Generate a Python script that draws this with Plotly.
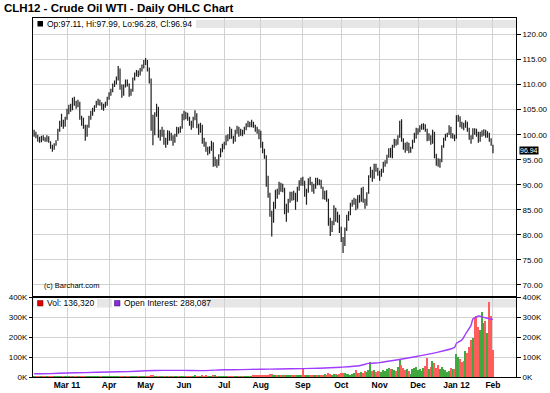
import pandas as pd
import plotly.graph_objects as go

# ---------------- data ----------------
holidays = ["2011-02-21", "2011-04-22", "2011-05-30", "2011-07-04", "2011-09-05",
            "2011-11-24", "2011-12-26", "2012-01-02", "2012-01-16"]

opens = [
    # Feb 2011
    100.0, 100.3, 99.5, 99.2, 98.8, 99.5, 99.1, 98.9, 99.5, 98.5, 97.7, 97.3, 98.0, 99.2, 100.8, 102.0, 102.8, 101.9,
    # Mar
    103.4, 104.5, 105.5, 105.2, 106.9, 106.3, 105.9, 106.4, 103.3, 102.9, 101.5, 100.0, 101.8, 103.3, 104.0, 104.9, 105.7, 106.3, 106.7, 106.1, 105.3, 105.9, 106.0,
    # Apr
    107.4, 108.1, 108.7, 109.8, 110.4, 111.1, 112.8, 109.6, 108.0, 109.7, 110.5, 110.0, 108.4, 108.8, 111.1, 112.0, 112.5, 112.1, 113.0, 113.6,
    # May
    114.4, 114.5, 113.0, 110.6, 102.6, 100.2, 104.1, 105.2, 99.9, 100.4, 100.5, 98.6, 98.4, 100.5, 99.3, 99.6, 98.9, 99.9, 101.1, 100.7, 101.4,
    # Jun
    103.7, 104.0, 103.9, 103.2, 102.3, 101.9, 103.3, 104.0, 101.6, 100.7, 101.8, 98.8, 98.3, 97.0, 96.9, 97.1, 98.2, 94.2, 94.8, 94.1, 95.8, 96.9,
    # Jul
    97.7, 98.2, 99.5, 99.3, 100.8, 99.4, 98.9, 100.7, 101.1, 100.1, 100.7, 100.4, 101.1, 101.9, 102.3, 101.8, 102.3, 101.7, 100.9, 100.6,
    # Aug
    100.0, 98.1, 96.6, 95.6, 90.1, 88.0, 84.0, 82.8, 85.9, 88.6, 88.3, 90.2, 89.1, 89.2, 84.5, 85.2, 86.8, 88.0, 87.5, 87.8, 86.8, 89.3, 90.4,
    # Sep
    90.7, 90.4, 86.8, 88.8, 90.9, 90.2, 88.8, 89.7, 90.9, 90.3, 90.7, 89.4, 87.7, 88.4, 86.8, 82.2, 81.5, 82.1, 85.0, 83.1, 83.6,
    # Oct
    80.9, 79.2, 78.4, 81.2, 83.7, 84.2, 86.1, 86.5, 86.9, 85.6, 87.5, 86.9, 89.1, 86.7, 86.2, 88.4, 91.7, 92.8, 91.6, 93.8, 93.1,
    # Nov
    92.2, 92.1, 92.7, 94.3, 94.6, 95.7, 97.0, 95.7, 97.7, 98.9, 98.3, 99.6, 102.2, 98.8, 97.5, 97.3, 98.1, 96.7, 97.4, 98.8, 100.1,
    # Dec
    100.7, 100.9, 101.6, 101.5, 101.7, 100.9, 99.1, 99.6, 98.5, 100.4, 95.5, 94.8, 94.3, 94.8, 97.7, 99.1, 99.9, 100.2, 101.3, 99.5, 99.7,
    # Jan 2012 + Feb 1
    99.3, 103.1, 103.5, 102.1, 101.8, 101.7, 102.3, 101.1, 99.5, 99.3, 100.9, 100.7, 100.3, 98.9, 100.1, 100.3, 100.7, 99.9, 100.1, 98.9, 97.11,
]

highs = [
    101.0, 100.6, 100.0, 99.6, 99.8, 99.9, 99.5, 99.9, 99.7, 98.7, 98.0, 98.3, 98.9, 101.2, 102.8, 104.2, 103.0, 103.6,
    105.2, 106.0, 106.2, 107.4, 107.6, 106.8, 107.0, 106.6, 103.8, 103.4, 102.0, 102.0, 103.8, 104.8, 105.4, 105.9, 106.8, 107.2, 107.0, 106.5, 106.2, 106.6, 107.6,
    108.5, 109.2, 110.2, 110.8, 111.6, 113.7, 113.2, 110.0, 110.0, 111.0, 111.0, 110.2, 109.2, 111.4, 112.4, 112.9, 112.8, 113.3, 114.0, 114.9,
    115.3, 114.9, 113.4, 111.2, 104.0, 104.5, 106.2, 105.6, 101.0, 101.6, 101.0, 99.4, 100.9, 100.8, 100.4, 99.9, 100.2, 101.6, 101.5, 101.7, 104.2,
    104.8, 104.6, 104.4, 103.6, 102.8, 103.6, 104.9, 104.3, 102.2, 102.4, 102.0, 99.4, 98.6, 97.6, 97.7, 98.8, 98.5, 95.6, 95.1, 96.1, 97.3, 98.2,
    98.6, 99.9, 100.1, 101.6, 101.2, 99.8, 101.0, 101.8, 101.6, 101.2, 101.0, 101.6, 102.3, 102.8, 102.6, 103.0, 102.6, 102.0, 101.6, 101.1,
    100.8, 98.6, 97.2, 95.9, 91.8, 88.4, 84.8, 86.6, 89.0, 89.2, 90.6, 90.4, 90.2, 89.4, 86.2, 87.2, 88.6, 88.6, 88.8, 88.4, 89.6, 90.9, 91.4,
    91.6, 90.8, 89.2, 91.3, 91.6, 90.6, 90.2, 91.4, 91.4, 91.1, 91.0, 89.6, 88.8, 88.9, 87.2, 83.4, 82.8, 85.9, 85.4, 84.6, 84.0,
    81.6, 79.6, 81.5, 84.0, 84.7, 86.4, 87.0, 87.4, 87.2, 87.9, 88.0, 89.4, 89.6, 87.2, 88.5, 91.9, 93.6, 93.0, 94.2, 94.2, 93.4,
    92.8, 93.2, 94.6, 94.9, 96.0, 97.3, 97.4, 98.0, 99.2, 99.1, 99.9, 102.8, 103.1, 99.3, 98.4, 98.6, 98.4, 97.6, 99.0, 100.4, 101.4,
    101.3, 101.9, 102.2, 102.3, 102.1, 101.2, 100.3, 99.9, 101.0, 100.6, 96.2, 95.3, 95.2, 97.9, 99.4, 100.2, 100.4, 101.9, 101.6, 100.3, 100.0,
    103.9, 104.0, 103.7, 102.6, 102.4, 102.9, 102.6, 101.4, 99.9, 101.3, 101.3, 101.2, 100.6, 100.6, 100.9, 101.1, 101.0, 100.7, 100.4, 99.3, 97.99,
]

lows = [
    99.6, 99.3, 98.6, 98.4, 98.5, 98.8, 98.6, 98.6, 98.4, 97.2, 96.6, 97.0, 97.8, 98.8, 100.6, 101.6, 101.2, 101.6,
    103.0, 104.1, 104.6, 104.9, 105.8, 105.2, 105.5, 103.0, 101.8, 101.2, 98.8, 99.6, 101.4, 103.0, 103.8, 104.6, 105.4, 105.9, 105.8, 105.0, 104.8, 105.4, 105.8,
    107.0, 107.8, 108.5, 109.5, 110.0, 110.8, 109.0, 107.4, 107.8, 109.4, 109.6, 107.6, 107.8, 108.6, 110.8, 111.6, 111.5, 111.8, 112.6, 113.2,
    113.9, 112.6, 110.2, 100.8, 97.9, 99.9, 103.6, 99.4, 98.8, 99.6, 98.0, 97.4, 98.0, 98.8, 98.8, 97.8, 98.4, 99.6, 100.2, 100.4, 101.2,
    102.9, 103.1, 102.8, 101.8, 101.0, 101.4, 102.9, 101.3, 100.0, 100.4, 98.2, 97.6, 96.6, 95.9, 96.2, 96.8, 93.6, 93.7, 93.4, 93.8, 95.5, 96.5,
    97.1, 97.9, 98.7, 99.1, 99.2, 98.2, 98.6, 100.2, 99.6, 99.8, 99.7, 100.1, 100.9, 101.5, 101.5, 101.5, 101.4, 100.6, 100.2, 99.1,
    97.4, 96.3, 95.2, 89.6, 87.4, 83.6, 79.7, 82.4, 85.2, 87.2, 88.0, 88.6, 88.5, 84.1, 82.6, 84.4, 86.4, 86.8, 86.9, 85.0, 86.6, 88.8, 89.8,
    89.8, 87.6, 86.0, 88.4, 89.9, 88.6, 88.2, 89.2, 89.9, 89.9, 89.2, 87.1, 87.0, 86.6, 81.8, 79.8, 80.6, 81.9, 82.6, 82.4, 80.4,
    78.6, 76.4, 77.8, 80.8, 82.8, 83.9, 85.6, 86.0, 84.9, 85.2, 86.4, 86.6, 86.4, 85.2, 85.8, 88.2, 91.4, 90.6, 91.2, 92.6, 91.8,
    90.8, 91.6, 92.4, 93.6, 94.2, 95.4, 95.4, 95.3, 97.4, 97.8, 98.0, 99.4, 98.6, 97.0, 96.4, 96.8, 96.3, 96.4, 97.2, 98.4, 99.2,
    100.0, 100.5, 101.0, 101.0, 100.6, 98.7, 98.8, 98.0, 98.2, 95.3, 93.8, 93.6, 93.4, 94.5, 97.4, 98.8, 99.5, 100.0, 99.3, 99.2, 98.7,
    99.2, 102.6, 101.5, 101.2, 100.9, 101.4, 100.6, 99.0, 98.2, 99.1, 100.0, 99.6, 98.4, 98.6, 99.6, 99.8, 99.4, 99.4, 98.6, 97.8, 96.28,
]

closes = [
    100.4, 99.6, 99.0, 98.8, 99.4, 99.2, 98.9, 99.6, 98.6, 97.6, 97.2, 97.9, 98.4, 100.6, 101.9, 102.6, 101.8, 103.3,
    104.6, 105.4, 105.0, 106.8, 106.4, 105.8, 106.6, 103.4, 102.6, 101.8, 99.9, 101.6, 103.2, 103.8, 104.8, 105.6, 106.4, 106.6, 106.2, 105.4, 105.8, 105.9, 107.3,
    108.0, 108.6, 109.7, 110.3, 111.0, 113.0, 109.5, 108.0, 109.6, 110.6, 110.2, 108.3, 108.6, 111.0, 112.0, 112.4, 112.0, 112.9, 113.5, 114.3,
    114.6, 113.0, 110.8, 102.4, 99.8, 104.0, 105.0, 99.8, 100.2, 100.6, 98.6, 98.2, 100.4, 99.2, 99.8, 98.8, 99.8, 101.0, 100.6, 101.2, 103.6,
    104.0, 103.8, 103.4, 102.2, 101.8, 103.2, 104.2, 101.8, 100.6, 102.0, 98.6, 98.4, 97.0, 96.8, 97.0, 98.4, 94.4, 94.6, 94.0, 95.6, 96.8, 97.6,
    98.0, 99.4, 99.2, 101.0, 99.6, 98.8, 100.6, 101.2, 100.0, 100.8, 100.2, 101.0, 101.8, 102.2, 102.0, 102.4, 101.8, 101.0, 100.8, 99.6,
    98.0, 96.8, 95.8, 90.0, 89.6, 84.4, 82.6, 85.8, 88.4, 88.0, 90.0, 89.0, 89.6, 84.6, 84.8, 86.6, 87.8, 87.6, 87.9, 86.4, 89.2, 90.4, 90.6,
    90.2, 88.0, 88.6, 90.8, 90.4, 89.0, 89.6, 90.8, 90.4, 90.6, 89.6, 87.6, 88.2, 87.0, 82.4, 81.4, 81.8, 85.2, 83.0, 83.8, 81.0,
    79.0, 78.2, 81.0, 83.6, 84.0, 86.0, 86.4, 86.8, 85.4, 87.6, 87.0, 89.0, 86.8, 86.0, 88.2, 91.6, 93.0, 91.4, 93.6, 93.2, 92.4,
    92.0, 92.6, 94.2, 94.4, 95.6, 96.9, 95.8, 97.6, 98.8, 98.2, 99.5, 102.4, 99.0, 97.6, 97.2, 98.2, 96.6, 97.2, 98.6, 100.0, 100.6,
    100.8, 101.4, 101.4, 101.8, 101.0, 99.0, 99.8, 98.4, 100.6, 95.6, 94.6, 94.2, 94.6, 97.6, 99.0, 99.8, 100.0, 101.4, 99.6, 99.8, 99.0,
    103.2, 103.4, 102.0, 101.8, 101.6, 102.4, 101.0, 99.4, 99.0, 100.8, 100.6, 100.2, 98.8, 100.2, 100.4, 100.8, 99.8, 100.2, 99.0, 98.4, 96.94,
]

volumes = [
    1200, 1500, 1100, 900, 1300, 1400, 1200, 1000, 1600, 1800, 1500, 1300, 1200, 2500, 2800, 2400, 1900, 2200,
    2000, 2400, 1800, 2100, 2300, 1900, 2200, 2800, 2600, 3000, 3600, 2800, 2500, 2300, 2100, 2000, 2400, 2200, 1900, 2000, 2300, 2100, 2500,
    2600, 2300, 2500, 2700, 2400, 3000, 3200, 2800, 2600, 2500, 2300, 2700, 2400, 2900, 2600, 2200, 2400, 2500, 2700, 3000,
    3200, 3400, 3800, 6500, 5200, 4000, 3600, 4200, 3800, 3300, 3500, 3700, 3200, 3100, 2900, 3300, 3000, 3400, 2800, 2600, 3500,
    3400, 3000, 2800, 3600, 3200, 3900, 9000, 4500, 4200, 3800, 5500, 4800, 5200, 4300, 4000, 4600, 6500, 5200, 4800, 4500, 4100, 4700,
    3800, 4200, 3900, 4600, 4400, 4800, 4200, 4000, 4500, 4300, 4100, 4700, 5000, 4600, 4200, 4800, 5200, 5600, 5100, 6200,
    6800, 7500, 8200, 12000, 11000, 14000, 15000, 12000, 10000, 8500, 7800, 8200, 7600, 11000, 9500, 8800, 9000, 7800, 8200, 7500, 8800, 9500, 10000,
    40000, 12000, 8000, 10000, 9000, 12000, 8000, 10000, 9000, 11000, 8000, 10000, 14000, 12000, 18000, 15000, 12000, 16000, 14000, 12000, 15000,
    18000, 22000, 20000, 15000, 14000, 12000, 16000, 20000, 33000, 18000, 20000, 25000, 22000, 28000, 25000, 33000, 73000, 30000, 35000, 25000, 28000,
    30000, 25000, 35000, 28000, 40000, 45000, 38000, 42000, 35000, 30000, 48000, 87000, 60000, 45000, 35000, 40000, 30000, 15000, 38000, 45000, 50000,
    35000, 40000, 30000, 45000, 55000, 95000, 40000, 50000, 82000, 70000, 45000, 60000, 38000, 52000, 40000, 35000, 25000, 30000, 45000, 38000, 42000,
    115000, 100000, 90000, 75000, 80000, 128000, 120000, 150000, 185000, 195000, 300000, 303000, 250000, 237000, 323000, 270000, 278000, 220000, 373000, 303000, 136320,
]

oi_dates = ["2011-02-02", "2011-02-15", "2011-03-01", "2011-03-15", "2011-04-01", "2011-04-15",
            "2011-05-02", "2011-05-16", "2011-06-01", "2011-06-15", "2011-07-01", "2011-07-15",
            "2011-08-01", "2011-08-15", "2011-09-01", "2011-09-15", "2011-10-03", "2011-10-17",
            "2011-10-24", "2011-11-01", "2011-11-15", "2011-12-01", "2011-12-15", "2011-12-30",
            "2012-01-03", "2012-01-06", "2012-01-10", "2012-01-13", "2012-01-17", "2012-01-19",
            "2012-01-20", "2012-01-23", "2012-01-24", "2012-01-26", "2012-01-30", "2012-02-01"]
oi_values = [16000, 17000, 20000, 22000, 25000, 27000,
             31000, 33000, 33000, 32000, 36000, 37000,
             39000, 40000, 42000, 44000, 49000, 56000,
             68000, 72000, 86000, 104000, 122000, 148000,
             168000, 185000, 215000, 258000, 290000, 300000,
             305000, 304000, 301000, 296000, 291000, 288087]

month_ticks = ["2011-03-01", "2011-04-01", "2011-05-02", "2011-06-01", "2011-07-01", "2011-08-01",
               "2011-09-01", "2011-10-03", "2011-11-01", "2011-12-01", "2012-01-03", "2012-02-01"]
month_labels = ["Mar 11", "Apr", "May", "Jun", "Jul", "Aug", "Sep", "Oct", "Nov", "Dec", "Jan 12", "Feb"]

price_ticks = [70, 75, 80, 85, 90, 95, 100, 105, 110, 115, 120]
vol_ticks = [0, 100000, 200000, 300000, 400000]
vol_labels = ["0K", "100K", "200K", "300K", "400K"]

title_text = "CLH12 - Crude Oil WTI - Daily OHLC Chart"
price_legend = "Op:97.11, Hi:97.99, Lo:96.28, Cl:96.94"
vol_legend = "Vol: 136,320"
oi_legend = "Open Interest: 288,087"
last_price = 96.94

# ---------------- styling ----------------
FONT = "Liberation Sans, Arial, sans-serif"
GRID = "#D2D2D2"
RED = "#FF5C5C"
GREEN = "#3FA83F"
PURPLE = "#A03CFF"
W, H = 550, 393
ML, MR, MT, MB = 33, 34, 18, 16
PW, PH = W - ML - MR, H - MT - MB
VOL_TOP = (PH + MT - 297) / PH  # divider at pixel 297


def px_x(p):
    return (p - ML) / PW


def px_y(p):
    return (PH + MT - p) / PH


dates = [d for d in pd.bdate_range("2011-02-02", "2012-02-01") if d.strftime("%Y-%m-%d") not in holidays]
vol_colors = [GREEN if i == 0 or closes[i] >= closes[i - 1] else RED for i in range(len(closes))]

x_range = ["2011-02-01 09:36", "2012-02-17 14:24"]
rbreaks = [dict(bounds=["sat", "mon"]), dict(values=holidays)]

fig = go.Figure()
fig.add_trace(go.Ohlc(
    x=dates, open=opens, high=highs, low=lows, close=closes,
    xaxis="x", yaxis="y",
    increasing=dict(line=dict(color="#1E1E1E", width=1.2)),
    decreasing=dict(line=dict(color="#1E1E1E", width=1.2)),
    tickwidth=0.3, showlegend=False,
))
fig.add_trace(go.Bar(
    x=dates, y=volumes, xaxis="x2", yaxis="y2",
    marker=dict(color=vol_colors, line=dict(width=0)),
    width=0.72 * 86400000, showlegend=False,
))
fig.add_trace(go.Scatter(
    x=oi_dates, y=oi_values, xaxis="x2", yaxis="y3", mode="lines",
    line=dict(color=PURPLE, width=1.4, shape="spline", smoothing=0.6), showlegend=False,
))

tickfont = dict(family=FONT, size=8, color="black")
common_x = dict(range=x_range, rangebreaks=rbreaks, tickvals=month_ticks, showgrid=True,
                gridcolor=GRID, gridwidth=1, showline=True, linecolor="black", linewidth=1,
                mirror=True, ticks="", zeroline=False, automargin=False)

fig.update_layout(
    width=W, height=H,
    margin=dict(l=ML, r=MR, t=MT, b=MB, pad=0, autoexpand=False),
    paper_bgcolor="white", plot_bgcolor="white",
    showlegend=False, bargap=0,
    font=dict(family=FONT, size=8, color="black"),
    xaxis=dict(domain=[0, 1], anchor="y", showticklabels=False,
               rangeslider=dict(visible=False), **common_x),
    xaxis2=dict(domain=[0, 1], anchor="y2", ticktext=month_labels,
                tickfont=dict(family=FONT, size=8.5, color="black", weight="bold"), **common_x),
    yaxis=dict(domain=[VOL_TOP, 1], anchor="x", side="right", range=[67.6, 123.3],
               tickvals=price_ticks, tickformat=".2f", ticks="outside", ticklen=4,
               tickcolor="black", showline=True, linecolor="black", mirror=True,
               showgrid=True, gridcolor=GRID, zeroline=False, tickfont=tickfont, automargin=False),
    yaxis2=dict(domain=[0, VOL_TOP], anchor="x2", side="right", range=[0, 400000],
                tickvals=vol_ticks, ticktext=vol_labels, ticks="outside", ticklen=4,
                tickcolor="black", showline=True, linecolor="black", mirror=True,
                showgrid=True, gridcolor=GRID, zeroline=False, tickfont=tickfont, automargin=False),
    yaxis3=dict(overlaying="y2", anchor="x2", side="left", range=[0, 400000],
                tickvals=vol_ticks, ticktext=vol_labels, ticks="outside", ticklen=3,
                tickcolor="black", showline=True, linecolor="black",
                showgrid=False, zeroline=False, tickfont=tickfont, automargin=False),
)

shapes = [
    # legend bands
    dict(type="rect", xref="paper", yref="paper", x0=0, x1=1, y0=px_y(28), y1=px_y(20),
         fillcolor="#E6E6E6", line=dict(width=0), layer="below"),
    dict(type="rect", xref="paper", yref="paper", x0=0, x1=1, y0=px_y(307.5), y1=px_y(299),
         fillcolor="#E6E6E6", line=dict(width=0), layer="below"),
    # white boxes behind legend texts
    dict(type="rect", xref="paper", yref="paper", x0=px_x(34), x1=px_x(196), y0=px_y(28), y1=px_y(20),
         fillcolor="white", line=dict(width=0), layer="above"),
    dict(type="rect", xref="paper", yref="paper", x0=px_x(34), x1=px_x(97), y0=px_y(307.5), y1=px_y(299),
         fillcolor="white", line=dict(width=0), layer="above"),
    dict(type="rect", xref="paper", yref="paper", x0=px_x(112), x1=px_x(203), y0=px_y(307.5), y1=px_y(299),
         fillcolor="white", line=dict(width=0), layer="above"),
    # legend squares
    dict(type="rect", xref="paper", yref="paper", x0=px_x(37.5), x1=px_x(43), y0=px_y(26.5), y1=px_y(21),
         fillcolor="black", line=dict(width=0), layer="above"),
    dict(type="rect", xref="paper", yref="paper", x0=px_x(37.5), x1=px_x(43), y0=px_y(306), y1=px_y(300.5),
         fillcolor="#E00000", line=dict(color="#600000", width=0.5), layer="above"),
    dict(type="rect", xref="paper", yref="paper", x0=px_x(114.5), x1=px_x(120), y0=px_y(306), y1=px_y(300.5),
         fillcolor="#8A2BE2", line=dict(color="#300060", width=0.5), layer="above"),
    # thick divider between panels
    dict(type="line", xref="paper", yref="paper", x0=0, x1=1, y0=VOL_TOP, y1=VOL_TOP,
         line=dict(color="black", width=2), layer="above"),
]

annotations = [
    dict(text=title_text, xref="paper", yref="paper", x=px_x(2), y=px_y(8.5),
         xanchor="left", yanchor="middle", showarrow=False,
         font=dict(family=FONT, size=11.5, color="black", weight="bold")),
    dict(text=price_legend, xref="paper", yref="paper", x=px_x(45), y=px_y(24),
         xanchor="left", yanchor="middle", showarrow=False,
         font=dict(family=FONT, size=8.5, color="black")),
    dict(text=vol_legend, xref="paper", yref="paper", x=px_x(45), y=px_y(303.3),
         xanchor="left", yanchor="middle", showarrow=False,
         font=dict(family=FONT, size=8.5, color="black")),
    dict(text=oi_legend, xref="paper", yref="paper", x=px_x(122), y=px_y(303.3),
         xanchor="left", yanchor="middle", showarrow=False,
         font=dict(family=FONT, size=8.5, color="black")),
    dict(text="(c) Barchart.com", xref="paper", yref="paper", x=px_x(42), y=px_y(285),
         xanchor="left", yanchor="middle", showarrow=False,
         font=dict(family=FONT, size=7.5, color="black")),
    dict(text=f"{last_price:.2f}", xref="paper", yref="y", x=px_x(519), y=last_price,
         xanchor="left", yanchor="middle", showarrow=False, bgcolor="black", borderpad=0,
         font=dict(family=FONT, size=7, color="white")),
]

fig.update_layout(shapes=shapes, annotations=annotations)
# page body has a default 8px margin; remove it so the 550x393 figure fills the window exactly
fig.write_html("out.html",
               config={"displayModeBar": False},
               post_script="document.body.style.margin='0px';document.body.style.overflow='hidden';")
